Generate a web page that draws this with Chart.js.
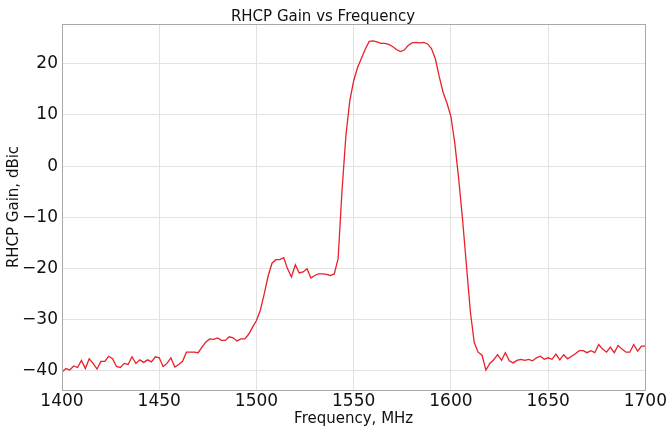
<!DOCTYPE html>
<html>
<head>
<meta charset="utf-8">
<script src="https://cdn.jsdelivr.net/npm/chart.js@4.4.0/dist/chart.umd.min.js"></script>
<style>
  html, body { margin: 0; padding: 0; background: #fff; }
  #wrap { width: 668px; height: 435px; }
</style>
</head>
<body>
<div id="wrap"><canvas id="chart" width="668" height="435"></canvas></div>
<script>
// frequency points, MHz
var FREQ = [
    1400, 1402, 1404, 1406, 1408, 1410, 1412, 1414, 1416, 1418,
    1420, 1422, 1424, 1426, 1428, 1430, 1432, 1434, 1436, 1438,
    1440, 1442, 1444, 1446, 1448, 1450, 1452, 1454, 1456, 1458,
    1460, 1462, 1464, 1466, 1468, 1470, 1472, 1474, 1476, 1478,
    1480, 1482, 1484, 1486, 1488, 1490, 1492, 1494, 1496, 1498,
    1500, 1502, 1504, 1506, 1508, 1510, 1512, 1514, 1516, 1518,
    1520, 1522, 1524, 1526, 1528, 1530, 1532, 1534, 1536, 1538,
    1540, 1542, 1544, 1546, 1548, 1550, 1552, 1554, 1556, 1558,
    1560, 1562, 1564, 1566, 1568, 1570, 1572, 1574, 1576, 1578,
    1580, 1582, 1584, 1586, 1588, 1590, 1592, 1594, 1596, 1598,
    1600, 1602, 1604, 1606, 1608, 1610, 1612, 1614, 1616, 1618,
    1620, 1622, 1624, 1626, 1628, 1630, 1632, 1634, 1636, 1638,
    1640, 1642, 1644, 1646, 1648, 1650, 1652, 1654, 1656, 1658,
    1660, 1662, 1664, 1666, 1668, 1670, 1672, 1674, 1676, 1678,
    1680, 1682, 1684, 1686, 1688, 1690, 1692, 1694, 1696, 1698,
    1700
];

// RHCP gain, dBic
var GAIN = [
    -40.3, -39.6, -39.9, -39.1, -39.4, -38.0, -39.6, -37.7, -38.6, -39.7,
    -38.2, -38.2, -37.2, -37.7, -39.2, -39.4, -38.6, -38.8, -37.3, -38.6,
    -37.9, -38.4, -37.9, -38.3, -37.3, -37.5, -39.2, -38.6, -37.5, -39.3,
    -38.8, -38.2, -36.4, -36.4, -36.4, -36.5, -35.4, -34.4, -33.8, -33.9,
    -33.6, -34.1, -34.1, -33.4, -33.6, -34.2, -33.8, -33.8, -32.9, -31.5,
    -30.2, -28.2, -25.0, -21.5, -19.0, -18.3, -18.3, -17.9, -20.1, -21.7,
    -19.3, -20.9, -20.7, -20.1, -21.9, -21.4, -21.1, -21.1, -21.2, -21.4,
    -21.1, -18.1, -4.8, 6.0, 12.8, 16.7, 19.3, 21.1, 22.9, 24.4,
    24.5, 24.3, 24.0, 24.0, 23.8, 23.4, 22.8, 22.4, 22.7, 23.6,
    24.1, 24.2, 24.1, 24.2, 23.9, 23.0, 21.0, 17.5, 14.4, 12.3,
    9.7, 4.5, -2.5, -10.5, -19.5, -28.5, -34.5, -36.4, -37.0, -39.9,
    -38.6, -37.9, -36.9, -38.0, -36.5, -38.1, -38.5, -38.0, -37.8, -38.0,
    -37.8, -38.1, -37.5, -37.2, -37.8, -37.5, -37.8, -36.8, -37.9, -36.9,
    -37.7, -37.2, -36.7, -36.1, -36.1, -36.5, -36.1, -36.5, -34.9, -35.8,
    -36.4, -35.4, -36.5, -35.1, -35.8, -36.4, -36.4, -34.9, -36.2, -35.2,
    -35.2
];

var X_TICKS = [1400, 1450, 1500, 1550, 1600, 1650, 1700];
var Y_TICKS = [-40, -30, -20, -10, 0, 10, 20];

var FONT = "'DejaVu Sans', sans-serif";

//cornice grigia attorno all'area del grafico
var frameBox = {
    id: 'frameBox',
    afterDraw: function (chart) {
        var a = chart.chartArea;
        var ctx = chart.ctx;
        ctx.save();
        ctx.strokeStyle = '#a8a8a8';
        ctx.lineWidth = 1;
        ctx.strokeRect(Math.round(a.left) + 0.5, Math.round(a.top) + 0.5,
            Math.round(a.right - a.left), Math.round(a.bottom - a.top));
        ctx.restore();
    }
};

function keepTicks(list) {
    return function (scale) {
        scale.ticks = list.map(function (v) { return { value: v }; });
    };
}

var points = FREQ.map(function (f, i) { return { x: f, y: GAIN[i] }; });

new Chart(document.getElementById('chart'), {
    type: 'line',
    data: {
        datasets: [{
            label: 'RHCP Gain',
            data: points,
            borderColor: '#e8202a',
            borderWidth: 1.3,
            pointRadius: 0,
            tension: 0,
            fill: false
        }]
    },
    options: {
        responsive: false,
        animation: false,
        layout: { padding: { left: 0, right: 22, top: 0, bottom: 0 } },
        plugins: {
            legend: { display: false },
            tooltip: { enabled: false },
            title: {
                display: true,
                text: 'RHCP Gain vs Frequency',
                color: '#111',
                font: { family: FONT, size: 15, weight: 'normal' },
                padding: { top: 8, bottom: -2 }
            }
        },
        scales: {
            x: {
                type: 'linear',
                min: 1400,
                max: 1700,
                afterBuildTicks: keepTicks(X_TICKS),
                afterFit: function (s) { s.height = 45; },
                grid: { color: '#e2e2e2', tickLength: 0, drawTicks: false },
                border: { display: false },
                ticks: {
                    color: '#111',
                    font: { family: FONT, size: 17 },
                    padding: 1,
                    maxRotation: 0,
                    callback: function (v) { return String(v); }
                },
                title: {
                    display: true,
                    text: 'Frequency, MHz',
                    color: '#111',
                    font: { family: FONT, size: 15 },
                    padding: { top: 0, bottom: 7 }
                }
            },
            y: {
                min: -43.8,
                max: 27.8,
                afterBuildTicks: keepTicks(Y_TICKS),
                afterFit: function (s) { s.width = 62; },
                grid: { color: '#e2e2e2', tickLength: 0, drawTicks: false },
                border: { display: false },
                ticks: {
                    color: '#111',
                    font: { family: FONT, size: 17 },
                    padding: 4,
                    callback: function (v) { return String(v).replace('-', '\u2212'); }
                },
                title: {
                    display: true,
                    text: 'RHCP Gain, dBic',
                    color: '#111',
                    font: { family: FONT, size: 15 },
                    padding: { top: 5, bottom: 0 }
                }
            }
        }
    },
    plugins: [frameBox]
});
</script>
</body>
</html>
